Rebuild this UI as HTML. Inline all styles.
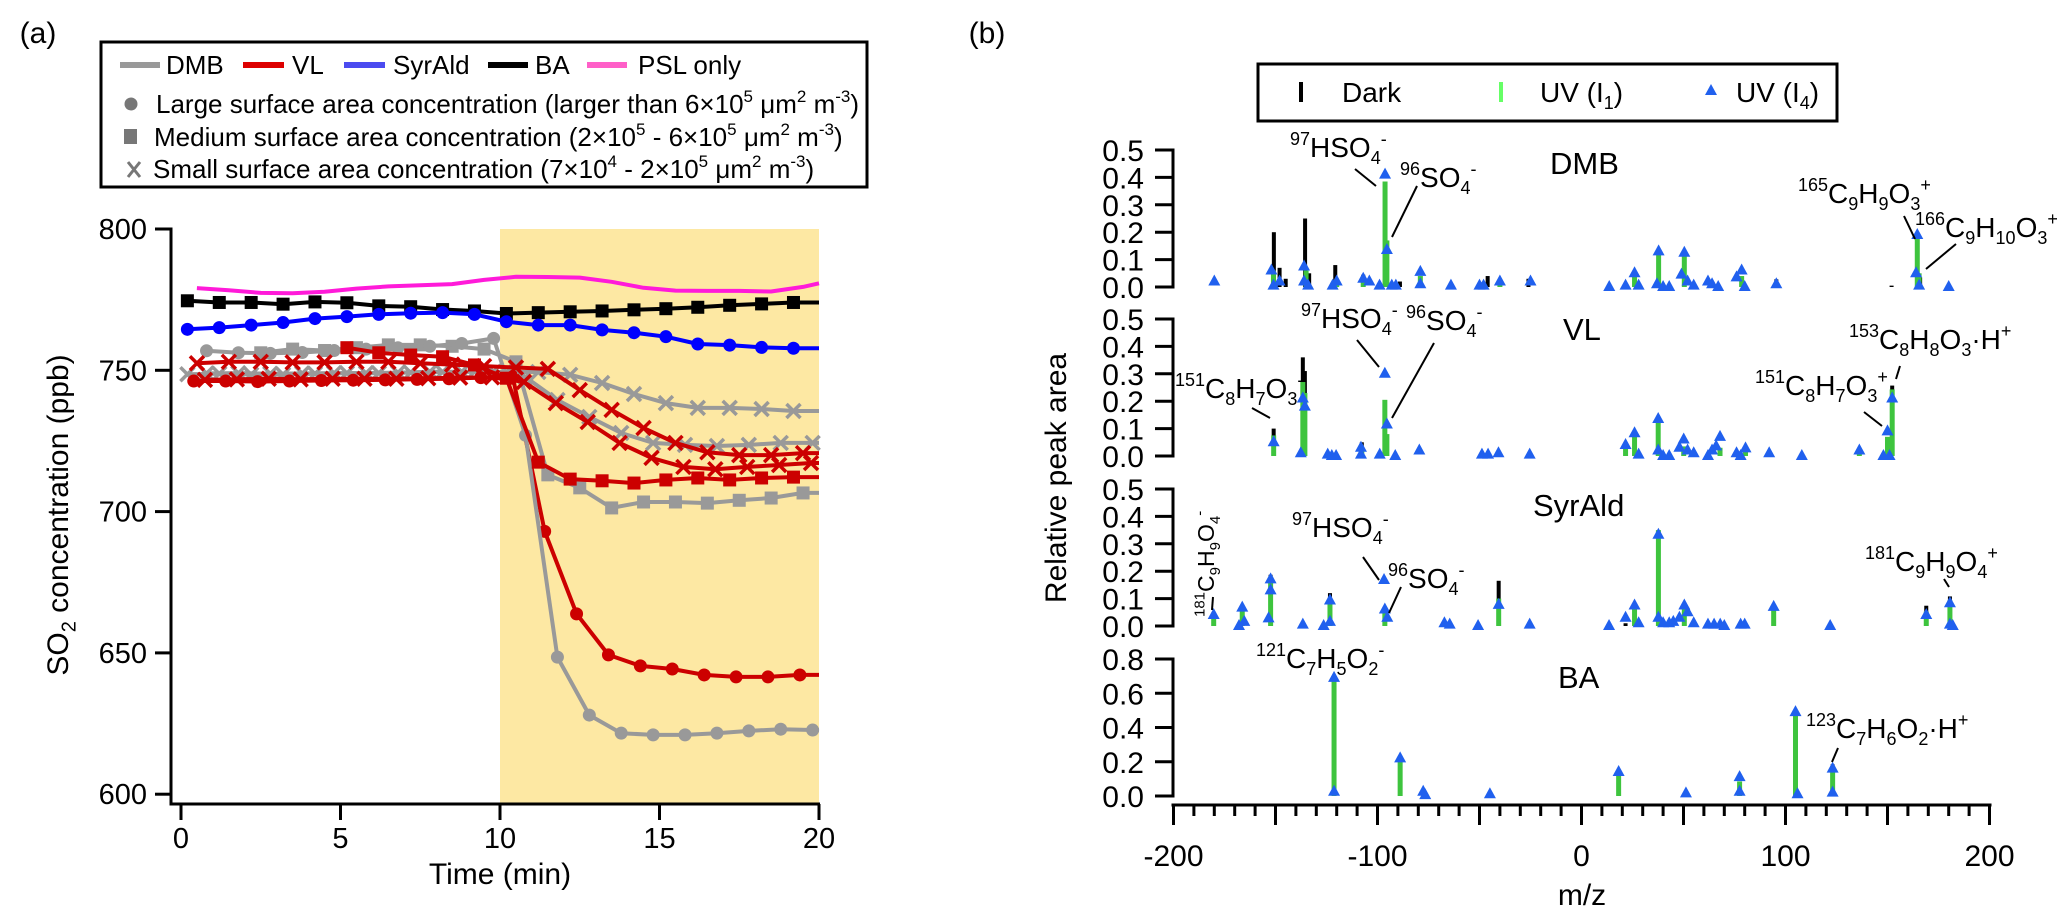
<!DOCTYPE html>
<html><head><meta charset="utf-8">
<style>
html,body{margin:0;padding:0;background:#fff;}
svg{display:block;font-family:"Liberation Sans",Arial,sans-serif;}
</style></head>
<body>
<svg id="fig" xmlns="http://www.w3.org/2000/svg" width="2067" height="924" viewBox="0 0 2067 924">
  <rect x="0" y="0" width="2067" height="924" fill="#fff"/>
  <text x="38" y="43" font-size="30" text-anchor="middle">(a)</text>
  <text x="987" y="43" font-size="30" text-anchor="middle">(b)</text>
  <g id="pa"></g>
  <g id="pb"></g>
</svg>
<script>
// ---------- Panel (a) data ----------
const tBA = [0.2,1.2,2.2,3.2,4.2,5.2,6.2,7.2,8.2,9.2,10.2,11.2,12.2,13.2,14.2,15.2,16.2,17.2,18.2,19.2];
const vBA = [774.6,774.0,774.0,773.4,774.2,773.9,772.8,772.5,771.5,771.0,770.1,770.4,770.7,771.0,771.4,771.8,772.3,773.0,773.5,774.0];
const tSyr = [0.2,1.2,2.2,3.2,4.2,5.2,6.2,7.2,8.2,9.2,10.2,11.2,12.2,13.2,14.2,15.2,16.2,17.2,18.2,19.2];
const vSyr = [764.5,765.1,766.0,766.9,768.3,769.0,769.8,770.2,770.4,769.8,767.2,766.0,766.0,764.3,763.3,761.9,759.3,758.9,758.1,757.8];
const tPSL = [0.5,1.5,2.5,3.5,4.5,5.5,6.5,7.5,8.5,9.5,10.5,11.5,12.5,13.5,14.5,15.5,16.5,17.5,18.5,19.5,20];
const vPSL = [779.1,778.3,777.4,777.3,777.8,778.9,779.7,780.1,780.5,782.0,783.1,783.0,782.8,781.3,779.2,778.2,778.1,778.1,777.9,779.5,780.8];
const tDmbL = [0.8,1.8,2.8,3.8,4.8,5.8,6.8,7.8,8.8,9.8,10.8,11.8,12.8,13.8,14.8,15.8,16.8,17.8,18.8,19.8];
const vDmbL = [756.9,756.2,756.0,756.3,757.0,757.5,758.0,758.5,759.5,761.3,727.0,648.5,628.0,621.6,621.0,621.0,621.6,622.4,623.0,622.7];
const tVlL = [0.4,1.4,2.4,3.4,4.4,5.4,6.4,7.4,8.4,9.4,10.4,11.4,12.4,13.4,14.4,15.4,16.4,17.4,18.4,19.4];
const vVlL = [746.2,746.2,746.0,746.2,746.4,746.5,746.6,746.8,747.0,747.4,747.7,693.0,663.8,649.3,645.4,644.3,642.2,641.5,641.5,642.2];
const tVlM = [5.2,6.2,7.2,8.2,9.2,10.2,11.2,12.2,13.2,14.2,15.2,16.2,17.2,18.2,19.2];
const vVlM = [758.0,756.2,755.4,754.8,751.9,747.2,717.5,711.5,710.9,710.1,711.2,711.9,711.2,711.9,712.2];
const tDmbM = [2.5,3.5,4.5,5.5,6.5,7.5,8.5,9.5,10.5,11.5,12.5,13.5,14.5,15.5,16.5,17.5,18.5,19.5];
const vDmbM = [756.2,757.5,757.0,758.0,759.0,759.0,758.5,757.5,753.0,713.0,708.4,701.3,703.4,703.4,703.0,704.0,704.8,706.6];
const tVlS1 = [0.5,1.5,2.5,3.5,4.5,5.5,6.5,7.5,8.5,9.5,10.5,11.5,12.5,13.5,14.5,15.5,16.5,17.5,18.5,19.5];
const vVlS1 = [752.5,753.0,753.0,752.8,752.8,753.0,753.0,752.5,752.0,751.5,751.0,750.5,743.0,736.0,729.6,724.3,721.0,720.0,720.0,720.7];
const tVlS2 = [0.75,1.75,2.75,3.75,4.75,5.75,6.75,7.75,8.75,9.75,10.75,11.75,12.75,13.75,14.75,15.75,16.75,17.75,18.75,19.75];
const vVlS2 = [746.6,746.8,747.0,746.8,747.0,747.0,747.0,747.2,747.4,747.5,745.9,738.4,731.7,724.3,719.0,715.8,715.0,715.8,716.5,717.2];
const tDmbS1 = [0.2,1.2,2.2,3.2,4.2,5.2,6.2,7.2,8.2,9.2,10.2,11.2,12.2,13.2,14.2,15.2,16.2,17.2,18.2,19.2];
const vDmbS1 = [748.6,748.8,748.5,748.5,748.8,749.0,749.0,749.2,749.4,749.5,749.4,749.4,748.4,745.5,741.6,738.4,736.7,736.7,736.3,735.6];
const tDmbS2 = [0.8,1.8,2.8,3.8,4.8,5.8,6.8,7.8,8.8,9.8,10.8,11.8,12.8,13.8,14.8,15.8,16.8,17.8,18.8,19.8];
const vDmbS2 = [748.9,749.0,748.8,748.9,749.0,749.0,749.2,749.5,749.5,749.5,747.6,739.5,733.5,727.8,724.3,723.6,723.2,723.6,724.3,724.3];
const yTicksA = [600,650,700,750,800];
const xTicksA = [0,5,10,15,20];

// ---------- Panel (b) data ----------
const dmbDarkMz = [-150.8,-148,-145,-135.5,-133.5,-120.7,-107,-89,-46,-40,-26,26,95.5,152,166];
const dmbDarkVal = [0.20,0.07,0.03,0.25,0.05,0.08,0.045,0.02,0.04,0.025,0.03,0.06,0.028,0.005,0.035];
const dmbUv1Mz = [-151,-135,-120,-107,-96.3,-95.4,-79,-40,26,37.8,50.4,78.5,164.6,165.5];
const dmbUv1Val = [0.06,0.06,0.02,0.02,0.385,0.17,0.04,0.02,0.05,0.13,0.125,0.04,0.19,0.05];
const dmbUv4Mz = [-180,-152,-151,-148,-136,-136,-134,-122,-120,-107,-104,-99,-96.3,-95.4,-93,-91,-79,-79,-64,-50,-48,-40,-25,13.6,21.6,26,28,37,37.8,40,43,49,50.4,52,55,62,64,67,76,78.5,80,95.5,164,164.6,165.5,180];
const dmbUv4Val = [0.02,0.06,0.005,0.02,0.075,0.02,0.005,0.005,0.02,0.03,0.02,0.005,0.41,0.135,0.005,0.005,0.055,0.01,0.005,0.005,0.005,0.02,0.02,0,0.005,0.05,0.005,0.01,0.13,0,0,0.045,0.125,0.02,0.005,0.02,0.01,0,0.035,0.06,0,0.01,0.05,0.19,0.005,0];

const vlDarkMz = [-150.9,-136.6,-135.6,-107.7,-40.7,67.9,152.3];
const vlDarkVal = [0.10,0.36,0.31,0.05,0.02,0.028,0.257];
const vlUv1Mz = [-150.9,-136.6,-135.6,-107.7,-96.4,-95.4,21.6,26,37.6,50.1,67.9,80.4,136.2,150,152.3];
const vlUv1Val = [0.075,0.27,0.23,0.03,0.205,0.08,0.035,0.083,0.13,0.035,0.03,0.028,0.02,0.07,0.243];
const vlUv4Mz = [-150.9,-137.6,-136.6,-135.6,-124.4,-122.4,-120.3,-108.1,-108.1,-98.9,-96.4,-95.4,-91.3,-79.5,-48.8,-45.8,-40.7,-25.4,21.6,26,28,37.6,37.6,40,43,48,50.1,52,55,62,64,66,67.9,76,78,80.4,92,108,136.2,148,150,151,152.3];
const vlUv4Val = [0.05,0.01,0.21,0.18,0.005,0,0,0.03,0.005,0.005,0.3,0.115,0,0.02,0.005,0.005,0.01,0.005,0.04,0.083,0.005,0.135,0.02,0,0,0.03,0.06,0.02,0.01,0,0.02,0.035,0.07,0.01,0,0.028,0.01,0,0.02,0,0.09,0,0.21];

const syrDarkMz = [-152.4,-123.3,-40.6,21.6,169,180.6];
const syrDarkVal = [0.187,0.12,0.165,0.01,0.074,0.108];
const syrUv1Mz = [-180.3,-166.3,-152.4,-123.3,-96.4,-40.6,26,37.7,50.4,94.2,169,180.6];
const syrUv1Val = [0.03,0.07,0.18,0.095,0.058,0.1,0.08,0.35,0.08,0.078,0.053,0.094];
const syrUv4Mz = [-180.3,-167.9,-166.3,-165.3,-153.4,-152.4,-152.4,-136.6,-126.4,-123.3,-123.3,-96.8,-96.4,-95.2,-67.2,-64.6,-50.7,-40.6,-25.4,13.5,21.6,26,28,37.7,37.7,40,43,45,48,50.4,52,55,62,65,68,70,78,80,94.2,121.9,169,180.6,180.6,182];
const syrUv4Val = [0.04,0,0.067,0.015,0.028,0.17,0.13,0.005,0,0.093,0.015,0.168,0.06,0.03,0.01,0.005,0,0.077,0.005,0,0.03,0.075,0.01,0.333,0.03,0.01,0.01,0.015,0.03,0.075,0.05,0.01,0.005,0.005,0.005,0,0.005,0.005,0.07,0,0.04,0.083,0.005,0];

const baDarkMz = [123.1];
const baDarkVal = [0.185];
const baUv1Mz = [-121.3,-88.9,18.2,77.5,104.9,123.1];
const baUv1Val = [0.687,0.2,0.13,0.085,0.49,0.15];
const baUv4Mz = [-121.3,-121.3,-88.9,-77.6,-76.6,-44.9,18.2,51.2,77.5,77.5,104.9,105.9,123.1,123.1];
const baUv4Val = [0.69,0.025,0.22,0.025,0.005,0.01,0.14,0.015,0.11,0.025,0.49,0.01,0.16,0.02];

const mzTicks = [-200,-100,0,100,200];

// ---------- helpers ----------
const NS = 'http://www.w3.org/2000/svg';
function mk(tag, attrs, parent){
  const e = document.createElementNS(NS, tag);
  for (const k in attrs) e.setAttribute(k, attrs[k]);
  parent.appendChild(e);
  return e;
}
function rich(parent, x, y, spec, size, anchor){
  const t = mk('text', {x:x, y:y, 'font-size':size, 'text-anchor':anchor||'start'}, parent);
  const re = /(\^\{[^}]*\}|_\{[^}]*\})/;
  const parts = spec.split(re).filter(s=>s.length);
  let cur = 0;
  parts.forEach(p=>{
    let txt=p, shift=0, fs=size;
    if (p.startsWith('^{')) { txt=p.slice(2,-1); shift=-0.42*size; fs=Math.round(size*0.66); }
    else if (p.startsWith('_{')) { txt=p.slice(2,-1); shift=0.25*size; fs=Math.round(size*0.66); }
    const ts = mk('tspan', {dy:(shift-cur).toFixed(1), 'font-size':fs}, t);
    ts.textContent = txt;
    cur = shift;
  });
  return t;
}

// ---------- Panel (a) ----------
const pa = document.getElementById('pa');
const xA = t => 181 + t*31.9;
const yA = v => 229 + (800 - v)*2.826;

const shade = mk('rect', {x:xA(10), y:yA(800), width:xA(20)-xA(10), height:804-yA(800), fill:'#fde8a3'}, pa);



function series(ts, vs, color, marker, name){
  const g = mk('g', {}, pa);
  
  
  const pts = ts.map((t,i)=>xA(t).toFixed(1)+','+yA(vs[i]).toFixed(1));
  if (marker && ts[ts.length-1] < 20) pts.push(xA(20).toFixed(1)+','+yA(vs[vs.length-1]).toFixed(1));
  mk('polyline', {points:pts.join(' '), fill:'none', stroke:color, 'stroke-width':4, 'stroke-linejoin':'round'}, g);
  if (!marker) return;
  ts.forEach((t,i)=>{
    const x = xA(t), y = yA(vs[i]);
    let m;
    if (marker==='circle') m = mk('circle', {cx:x, cy:y, r:6.5, fill:color}, g);
    else if (marker==='square') m = mk('rect', {x:x-6.5, y:y-6.5, width:13, height:13, fill:color}, g);
    else m = mk('path', {d:`M${x-7},${y-7}L${x+7},${y+7}M${x-7},${y+7}L${x+7},${y-7}`, stroke:color, 'stroke-width':3.5}, g);
    
    
  });
}
const GRAY='#999999', RED='#cc0000', BLUE='#0000ff', PINK='#ff1ad9';
series(tPSL, vPSL, PINK, null, 'psl-only-line');
series(tBA, vBA, '#000', 'square', 'ba-series');
series(tSyr, vSyr, BLUE, 'circle', 'syrald-series');
series(tDmbS1, vDmbS1, GRAY, 'x', 'dmb-small-series-1');
series(tDmbS2, vDmbS2, GRAY, 'x', 'dmb-small-series-2');
series(tVlL, vVlL, RED, 'circle', 'vl-large-series');
series(tDmbM, vDmbM, GRAY, 'square', 'dmb-medium-series');
series(tDmbL, vDmbL, GRAY, 'circle', 'dmb-large-series');
series(tVlS1, vVlS1, RED, 'x', 'vl-small-series-1');
series(tVlS2, vVlS2, RED, 'x', 'vl-small-series-2');
series(tVlM, vVlM, RED, 'square', 'vl-medium-series');

const axA = mk('g', {stroke:'#000', 'stroke-width':3}, pa);


mk('line', {x1:171, y1:yA(800)-1.5, x2:171, y2:805.5}, axA);
mk('line', {x1:169.5, y1:804, x2:820, y2:804}, axA);
yTicksA.forEach(v=>{
  mk('line', {x1:155, y1:yA(v), x2:171, y2:yA(v)}, axA);
  const l = mk('text', {x:147, y:yA(v)+10, 'font-size':29, 'text-anchor':'end', stroke:'none'}, pa);
  
  
  l.textContent = v;
});
xTicksA.forEach(t=>{
  mk('line', {x1:xA(t), y1:804, x2:xA(t), y2:820}, axA);
  const l = mk('text', {x:xA(t), y:848, 'font-size':29, 'text-anchor':'middle'}, pa);
  
  
  l.textContent = t;
});
const xtA = mk('text', {x:500, y:884, 'font-size':30, 'text-anchor':'middle'}, pa);


xtA.textContent = 'Time (min)';
const ytA = rich(pa, 0, 0, 'SO_{2} concentration (ppb)', 30, 'middle');
ytA.setAttribute('transform', 'translate(68,515) rotate(-90)');



const lg = mk('g', {}, pa);


mk('rect', {x:101, y:42, width:766, height:145, fill:'#fff', stroke:'#000', 'stroke-width':3}, lg);
const legItems = [[120,160,166,'#999999','DMB'],[243,284,292,'#dd0000','VL'],[344,385,393,'#4b4bf0','SyrAld'],[488,528,535,'#000','BA'],[587,627,638,'#ff5fc8','PSL only']];
legItems.forEach(it=>{
  const e = mk('g', {}, lg);
  
  
  mk('line', {x1:it[0], y1:65, x2:it[1], y2:65, stroke:it[3], 'stroke-width':6}, e);
  const tx = mk('text', {x:it[2], y:74, 'font-size':26}, e);
  tx.textContent = it[4];
});
const c1 = mk('circle', {cx:131, cy:104, r:6.5, fill:'#777'}, lg);


rich(lg, 156, 113, 'Large surface area concentration (larger than 6×10^{5} μm^{2} m^{-3})', 26);
const s1 = mk('rect', {x:124, y:129, width:13, height:15, fill:'#777'}, lg);


rich(lg, 154, 146, 'Medium surface area concentration (2×10^{5} - 6×10^{5} μm^{2} m^{-3})', 26);
const x1m = mk('path', {d:'M128,162L140,177M128,177L140,162', stroke:'#777', 'stroke-width':3}, lg);


rich(lg, 153, 178, 'Small surface area concentration (7×10^{4} - 2×10^{5} μm^{2} m^{-3})', 26);

// ---------- Panel (b) ----------
const pb = document.getElementById('pb');
const xB = mz => 1581.5 + mz*2.04;
const panels = [
  {name:'DMB', y0:287, k:274, max:0.5, step:0.1, lx:1550, ly:174, dM:dmbDarkMz, dV:dmbDarkVal, u1M:dmbUv1Mz, u1V:dmbUv1Val, u4M:dmbUv4Mz, u4V:dmbUv4Val},
  {name:'VL', y0:456, k:274, max:0.5, step:0.1, lx:1563, ly:340, dM:vlDarkMz, dV:vlDarkVal, u1M:vlUv1Mz, u1V:vlUv1Val, u4M:vlUv4Mz, u4V:vlUv4Val},
  {name:'SyrAld', y0:626, k:274, max:0.5, step:0.1, lx:1533, ly:516, dM:syrDarkMz, dV:syrDarkVal, u1M:syrUv1Mz, u1V:syrUv1Val, u4M:syrUv4Mz, u4V:syrUv4Val},
  {name:'BA', y0:796, k:171.25, max:0.8, step:0.2, lx:1558, ly:688, dM:baDarkMz, dV:baDarkVal, u1M:baUv1Mz, u1V:baUv1Val, u4M:baUv4Mz, u4V:baUv4Val}
];
panels.forEach(p=>{
  const g = mk('g', {}, pb);
  
  
  const yv = v => p.y0 - v*p.k;
  mk('line', {x1:1173, y1:yv(p.max)-1.5, x2:1173, y2:p.y0+1.5, stroke:'#000', 'stroke-width':3}, g);
  const n = Math.round(p.max/p.step);
  for (let i=0;i<=n;i++){
    const v = i*p.step;
    mk('line', {x1:1155, y1:yv(v), x2:1173, y2:yv(v), stroke:'#000', 'stroke-width':3}, g);
    const l = mk('text', {x:1144, y:yv(v)+11, 'font-size':30, 'text-anchor':'end'}, g);
    
    
    l.textContent = v.toFixed(1);
  }
  const title = mk('text', {x:p.lx, y:p.ly, 'font-size':31}, g);
  
  
  title.textContent = p.name;
  p.dM.forEach((m,i)=>{
    const b = mk('rect', {x:xB(m)-2, y:yv(p.dV[i]), width:4, height:p.dV[i]*p.k, fill:'#000'}, g);
    
    
  });
  p.u1M.forEach((m,i)=>{
    const b = mk('rect', {x:xB(m)-2.5, y:yv(p.u1V[i]), width:5, height:p.u1V[i]*p.k, fill:'#3ec43e'}, g);
    
    
  });
  p.u4M.forEach((m,i)=>{
    const x = xB(m), y = yv(p.u4V[i]);
    const tri = mk('path', {d:`M${x-6},${y+4}L${x+6},${y+4}L${x},${y-7}Z`, fill:'#2060ee'}, g);
    
    
  });
});

const axB = mk('g', {stroke:'#000', 'stroke-width':3}, pb);


mk('line', {x1:1171.5, y1:805, x2:1991.5, y2:805}, axB);
for (let m=-200;m<=200;m+=10){
  const len = (m%50===0) ? 20 : 11;
  mk('line', {x1:xB(m), y1:805, x2:xB(m), y2:805+len}, axB);
}
mzTicks.forEach(m=>{
  const l = mk('text', {x:xB(m), y:866, 'font-size':30, 'text-anchor':'middle'}, pb);
  
  
  l.textContent = m;
});
const xtB = mk('text', {x:1582, y:905, 'font-size':30, 'text-anchor':'middle'}, pb);


xtB.textContent = 'm/z';
const ytB = mk('text', {x:0, y:0, 'font-size':30, 'text-anchor':'middle', transform:'translate(1066,478) rotate(-90)'}, pb);


ytB.textContent = 'Relative peak area';

const lgb = mk('g', {}, pb);


mk('rect', {x:1258, y:64, width:579, height:57, fill:'#fff', stroke:'#000', 'stroke-width':3}, lgb);
mk('rect', {x:1299, y:82, width:4, height:20, fill:'#000'}, lgb);
const ld = mk('text', {x:1342, y:102, 'font-size':28}, lgb);


ld.textContent = 'Dark';
mk('rect', {x:1499, y:82, width:4, height:20, fill:'#66ff66'}, lgb);
const l1 = rich(lgb, 1540, 102, 'UV (I_{1})', 28);


mk('path', {d:'M1705,95L1717,95L1711,84Z', fill:'#2060ee'}, lgb);
const l4 = rich(lgb, 1736, 102, 'UV (I_{4})', 28);



function ann(x, y, spec, lx1, ly1, lx2, ly2){
  const g = mk('g', {}, pb);
  
  
  rich(g, x, y, spec, 28);
  if (lx1 !== undefined) mk('line', {x1:lx1, y1:ly1, x2:lx2, y2:ly2, stroke:'#000', 'stroke-width':2}, g);
}
ann(1290, 157, '^{97}HSO_{4}^{-}', 1355, 169, 1376, 186);
ann(1400, 187, '^{96}SO_{4}^{-}', 1417, 186, 1392, 237);
ann(1798, 203, '^{165}C_{9}H_{9}O_{3}^{+}', 1904, 216, 1915, 239);
ann(1915, 237, '^{166}C_{9}H_{10}O_{3}^{+}', 1956, 244, 1926, 269);
ann(1175, 398, '^{151}C_{8}H_{7}O_{3}^{-}', 1252, 408, 1270, 418);
ann(1301, 328, '^{97}HSO_{4}^{-}', 1357, 340, 1379, 367);
ann(1406, 330, '^{96}SO_{4}^{-}', 1434, 343, 1392, 418);
ann(1849, 349, '^{153}C_{8}H_{8}O_{3}·H^{+}', 1900, 366, 1896, 379);
ann(1755, 395, '^{151}C_{8}H_{7}O_{3}^{+}', 1864, 412, 1882, 426);
ann(1292, 537, '^{97}HSO_{4}^{-}', 1363, 557, 1379, 580);
ann(1388, 588, '^{96}SO_{4}^{-}', 1401, 587, 1389, 613);
ann(1865, 571, '^{181}C_{9}H_{9}O_{4}^{+}', 1944, 579, 1949, 587);
ann(1256, 668, '^{121}C_{7}H_{5}O_{2}^{-}');
ann(1806, 738, '^{123}C_{7}H_{6}O_{2}·H^{+}', 1838, 748, 1832, 762);
const rg = mk('g', {transform:'translate(1214,617) rotate(-90)'}, pb);


rich(rg, 0, 0, '^{181}C_{9}H_{9}O_{4}^{-}', 23);
const rl = mk('line', {x1:1213, y1:597, x2:1212, y2:610, stroke:'#000', 'stroke-width':2}, pb);


</script>
</body></html>
